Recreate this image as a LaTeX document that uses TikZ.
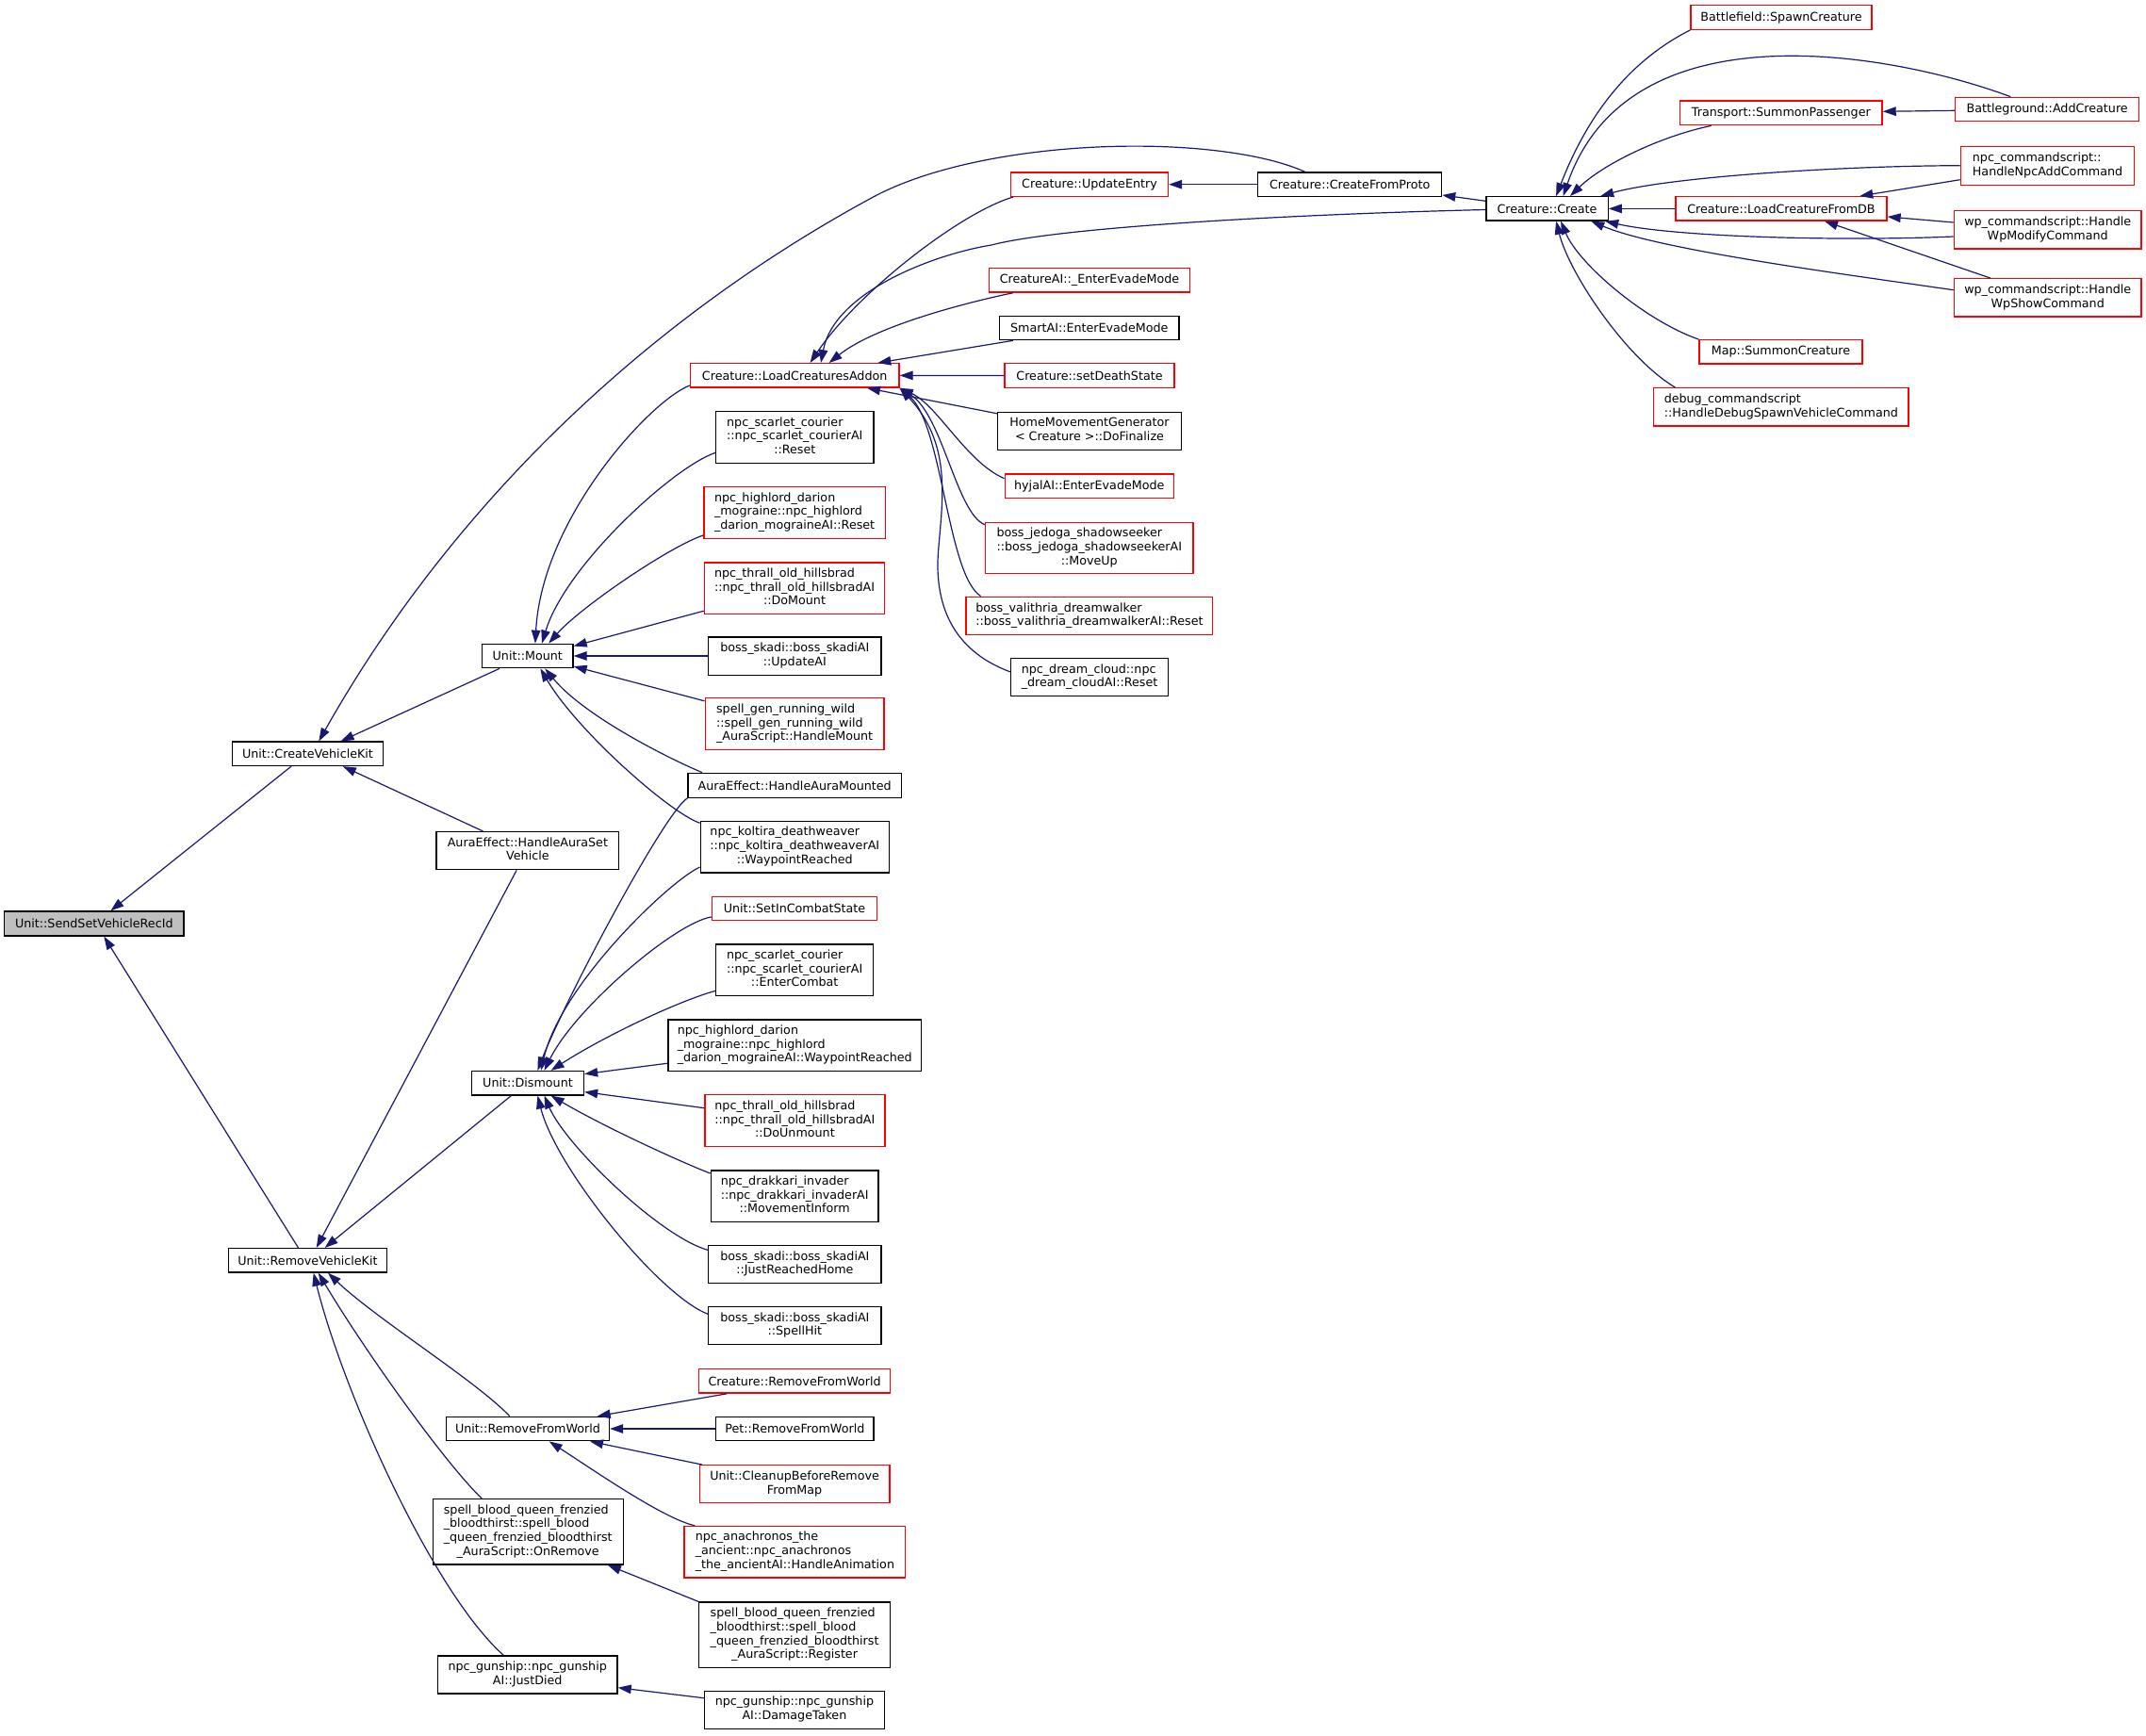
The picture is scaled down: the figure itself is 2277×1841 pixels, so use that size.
\documentclass[tikz,border=0pt]{standalone}
\usepackage{fontspec}
\setmainfont{DejaVu Sans}
\usetikzlibrary{arrows.meta}
\definecolor{edgec}{HTML}{191970}
\definecolor{redc}{HTML}{FF0000}
\definecolor{grayc}{HTML}{BFBFBF}
\newcommand\mlines[2]{\begin{tabular}{@{}l@{}}#1\\\multicolumn{1}{@{}c@{}}{#2}\end{tabular}}
\begin{document}
\begin{tikzpicture}[x=1pt,y=-1pt,
  font=\fontsize{12.7}{14.7}\selectfont,
  box/.style={draw=black,line width=1.3pt,fill=white,inner sep=0pt,align=center},
  rbox/.style={box,draw=redc},
  wh/.style 2 args={minimum width=#1pt,minimum height=#2pt},
  e/.style={draw=edgec,line width=1.2pt,-{Triangle[length=14pt,width=9.5pt]}}]
\fill[white] (0,0) rectangle (2277,1841);
\useasboundingbox (0,0) rectangle (2277,1841);
% ---------- nodes ----------
\node[box,fill=grayc,wh={190.5}{26}] (ssv) at (99.8,980) {Unit::SendSetVehicleRecId};
\node[box,wh={160.3}{25.4}] (cvk) at (326.5,799.8) {Unit::CreateVehicleKit};
\node[box,wh={168}{25.4}] (rvk) at (326.4,1337.3) {Unit::RemoveVehicleKit};
\node[box,wh={193.8}{40}] (asv) at (559.9,902.6) {\mlines{AuraEffect::HandleAuraSet}{Vehicle}};
\node[box,wh={96.4}{25.4}] (mount) at (559.8,696) {Unit::Mount};
\node[box,wh={119}{25.4}] (dism) at (560,1149.2) {Unit::Dismount};
\node[box,wh={173}{25.4}] (rfw) at (560,1516) {Unit::RemoveFromWorld};
\node[box,wh={202}{69.3}] (onrem) at (560.2,1625.3) {\mlines{spell\_blood\_queen\_frenzied\\\_bloodthirst::spell\_blood\\\_queen\_frenzied\_bloodthirst}{\_AuraScript::OnRemove}};
\node[box,wh={190.8}{40.2}] (jdied) at (559.7,1777) {\mlines{npc\_gunship::npc\_gunship}{AI::JustDied}};
\node[rbox,wh={221.5}{25.4}] (lca) at (843.2,398.4) {Creature::LoadCreaturesAddon};
\node[box,wh={167.3}{54.4}] (scR) at (843.3,464) {\mlines{npc\_scarlet\_courier\\::npc\_scarlet\_courierAI}{::Reset}};
\node[rbox,wh={192.2}{54.4}] (hlR) at (843.1,544) {\mlines{npc\_highlord\_darion\\\_mograine::npc\_highlord}{\_darion\_mograineAI::Reset}};
\node[rbox,wh={191}{54.6}] (thM) at (843,624.2) {\mlines{npc\_thrall\_old\_hillsbrad\\::npc\_thrall\_old\_hillsbradAI}{::DoMount}};
\node[box,wh={183.3}{40.2}] (skU) at (843.3,696.1) {\mlines{boss\_skadi::boss\_skadiAI}{::UpdateAI}};
\node[rbox,wh={189.8}{54.6}] (rw) at (843.1,768.1) {\mlines{spell\_gen\_running\_wild\\::spell\_gen\_running\_wild}{\_AuraScript::HandleMount}};
\node[box,wh={226.5}{26}] (ham) at (843.2,833.3) {AuraEffect::HandleAuraMounted};
\node[box,wh={200.2}{54.6}] (kol) at (843.3,898.6) {\mlines{npc\_koltira\_deathweaver\\::npc\_koltira\_deathweaverAI}{::WaypointReached}};
\node[rbox,wh={175.3}{25.4}] (sic) at (843,963.9) {Unit::SetInCombatState};
\node[box,wh={167.2}{54.4}] (scE) at (843.2,1029.2) {\mlines{npc\_scarlet\_courier\\::npc\_scarlet\_courierAI}{::EnterCombat}};
\node[box,wh={268.5}{54.4}] (hlW) at (843.2,1109.2) {\mlines{npc\_highlord\_darion\\\_mograine::npc\_highlord}{\_darion\_mograineAI::WaypointReached}};
\node[rbox,wh={191.1}{54.6}] (thU) at (843.4,1189.1) {\mlines{npc\_thrall\_old\_hillsbrad\\::npc\_thrall\_old\_hillsbradAI}{::DoUnmount}};
\node[box,wh={177.8}{54.4}] (dk) at (843.2,1269.2) {\mlines{npc\_drakkari\_invader\\::npc\_drakkari\_invaderAI}{::MovementInform}};
\node[box,wh={183.2}{40}] (skJ) at (843.4,1341.4) {\mlines{boss\_skadi::boss\_skadiAI}{::JustReachedHome}};
\node[box,wh={183.2}{40}] (skS) at (843.4,1406.4) {\mlines{boss\_skadi::boss\_skadiAI}{::SpellHit}};
\node[rbox,wh={202.6}{25.4}] (crfw) at (843.1,1465.4) {Creature::RemoveFromWorld};
\node[box,wh={167.3}{25.4}] (pet) at (843.4,1516) {Pet::RemoveFromWorld};
\node[rbox,wh={201.6}{40}] (cln) at (843.1,1574.7) {\mlines{Unit::CleanupBeforeRemove}{FromMap}};
\node[rbox,wh={234.7}{54.7}] (ana) at (843.4,1646.7) {\mlines{npc\_anachronos\_the\\\_ancient::npc\_anachronos}{\_the\_ancientAI::HandleAnimation}};
\node[box,wh={202.6}{69.3}] (reg) at (843.1,1734.7) {\mlines{spell\_blood\_queen\_frenzied\\\_bloodthirst::spell\_blood\\\_queen\_frenzied\_bloodthirst}{\_AuraScript::Register}};
\node[box,wh={190.9}{40}] (dmg) at (842.9,1814.3) {\mlines{npc\_gunship::npc\_gunship}{AI::DamageTaken}};
\node[rbox,wh={167}{25.4}] (upe) at (1156,195.7) {Creature::UpdateEntry};
\node[rbox,wh={213}{25.4}] (cai) at (1156,297.4) {CreatureAI::\_EnterEvadeMode};
\node[box,wh={190.5}{25.4}] (sai) at (1155.8,348) {SmartAI::EnterEvadeMode};
\node[rbox,wh={180}{25.4}] (sds) at (1156,398.5) {Creature::setDeathState};
\node[box,wh={194.8}{40.1}] (hmg) at (1156,457.4) {\mlines{HomeMovementGenerator}{< Creature >::DoFinalize}};
\node[rbox,wh={179.2}{25.4}] (hy) at (1155.8,515.7) {hyjalAI::EnterEvadeMode};
\node[rbox,wh={220.4}{54.4}] (jed) at (1155.8,581.6) {\mlines{boss\_jedoga\_shadowseeker\\::boss\_jedoga\_shadowseekerAI}{::MoveUp}};
\node[rbox,wh={261.7}{40.6}] (val) at (1155.9,653.5) {\mlines{boss\_valithria\_dreamwalker}{::boss\_valithria\_dreamwalkerAI::Reset}};
\node[box,wh={167.2}{40.2}] (dc) at (1156,718.7) {\mlines{npc\_dream\_cloud::npc}{\_dream\_cloudAI::Reset}};
\node[box,wh={194.8}{25.4}] (cfp) at (1432.2,195.7) {Creature::CreateFromProto};
\node[box,wh={129.3}{25.4}] (cre) at (1641.5,221.4) {Creature::Create};
\node[rbox,wh={192.2}{25.6}] (bfs) at (1890,18.5) {Battlefield::SpawnCreature};
\node[rbox,wh={214.5}{25.7}] (tsp) at (1889.8,119.9) {Transport::SummonPassenger};
\node[rbox,wh={194.8}{25.4}] (bga) at (2172.2,116) {Battleground::AddCreature};
\node[rbox,wh={184.3}{40.6}] (npca) at (2172.5,176) {\mlines{npc\_commandscript::}{HandleNpcAddCommand}};
\node[rbox,wh={224}{25.4}] (lcfdb) at (1890,221.4) {Creature::LoadCreatureFromDB};
\node[rbox,wh={198.7}{40.3}] (wpm) at (2172.7,243.9) {\mlines{wp\_commandscript::Handle}{WpModifyCommand}};
\node[rbox,wh={198.7}{40.3}] (wps) at (2172.7,315.9) {\mlines{wp\_commandscript::Handle}{WpShowCommand}};
\node[rbox,wh={173}{25.4}] (map) at (1889.5,373.4) {Map::SummonCreature};
\node[rbox,wh={270.1}{40.3}] (dbg) at (1889.8,431.9) {\mlines{debug\_commandscript}{::HandleDebugSpawnVehicleCommand}};
% ---------- edges ----------
\draw[e] (309,0 |- cvk.south) -- (117.4,0 |- ssv.north);
\draw[e] (316.5,0 |- rvk.north) -- (110.3,0 |- ssv.south);
\draw[e] (530,0 |- mount.south) -- (361.6,0 |- cvk.north);
\draw[e] (512.5,0 |- asv.north) -- (363.8,0 |- cvk.south);
\draw[e] (548.2,0 |- asv.south) -- (335.7,0 |- rvk.north);
\draw[e] (542.4,0 |- dism.south) -- (344.6,0 |- rvk.north);
\draw[e] (540.8,0 |- rfw.north) .. controls (505,1465) and (400,1400) .. (348,0 |- rvk.south);
\draw[e] (511.2,0 |- onrem.north) .. controls (470,1550) and (385,1430) .. (337.8,0 |- rvk.south);
\draw[e] (534.2,0 |- jdied.north) .. controls (460,1690) and (365,1480) .. (332.7,0 |- rvk.south);
\draw[e] (lca.west |- 0,409) .. controls (690,425) and (575,550) .. (567.9,0 |- mount.north);
\draw[e] (scR.west |- 0,480.4) .. controls (715,495) and (600,600) .. (575,0 |- mount.north);
\draw[e] (hlR.west |- 0,567.9) .. controls (710,580) and (615,645) .. (582.2,0 |- mount.north);
\draw[e] (thM.west |- 0,648.2) -- (mount.east |- 0,685.5);
\draw[e] (skU.west |- mount.east) -- (mount.east);
\draw[e] (rw.west |- 0,743.8) -- (mount.east |- 0,707);
\draw[e] (745,0 |- ham.north) .. controls (710,805) and (620,760) .. (578.3,0 |- mount.south);
\draw[e] (kol.west |- 0,873.3) .. controls (710,862) and (612,775) .. (573.3,0 |- mount.south);
\draw[e] (ham.south west) .. controls (705,862) and (600,1060) .. (570.4,0 |- dism.north);
\draw[e] (kol.west |- 0,920) .. controls (710,935) and (595,1045) .. (574,0 |- dism.north);
\draw[e] (sic.west |- 0,972.9) .. controls (715,980) and (610,1070) .. (577.5,0 |- dism.north);
\draw[e] (scE.west |- 0,1051.4) .. controls (720,1062) and (640,1100) .. (584.6,0 |- dism.north);
\draw[e] (hlW.west |- 0,1128.2) -- (dism.east |- 0,1139.6);
\draw[e] (thU.west |- 0,1175.7) -- (dism.east |- 0,1158.6);
\draw[e] (dk.west |- 0,1245) .. controls (720,1232) and (640,1195) .. (584.6,0 |- dism.south);
\draw[e] (skJ.west |- 0,1326.4) .. controls (700,1312) and (600,1215) .. (577.5,0 |- dism.south);
\draw[e] (skS.west |- 0,1394.3) .. controls (700,1375) and (590,1240) .. (570.4,0 |- dism.south);
\draw[e] (771.4,0 |- crfw.south) -- (633.7,0 |- rfw.north);
\draw[e] (pet.west) -- (rfw.east);
\draw[e] (744.9,0 |- cln.north) -- (626,0 |- rfw.south);
\draw[e] (737.2,0 |- ana.north) .. controls (705,1612) and (630,1560) .. (582.7,0 |- rfw.south);
\draw[e] (reg.north west) -- (644.9,0 |- onrem.south);
\draw[e] (dmg.west |- 0,1801.7) -- (jdied.east |- 0,1790.7);
\draw[e] (1075,0 |- upe.south) .. controls (1020,225) and (910,310) .. (859.5,0 |- lca.north);
\draw[e] (cre.west |- 0,222.5) .. controls (1350,228) and (1120,242) .. (1052,260) .. controls (990,270) and (885,310) .. (871,0 |- lca.north);
\draw[e] (1074.8,0 |- cai.south) .. controls (1030,320) and (930,345) .. (879.6,0 |- lca.north);
\draw[e] (1074.8,0 |- sai.south) -- (931.3,0 |- lca.north);
\draw[e] (sds.west) -- (lca.east);
\draw[e] (hmg.west |- 0,438.8) -- (920,0 |- lca.south);
\draw[e] (hy.west |- 0,507.7) .. controls (1025,490) and (995,430) .. (lca.south east);
\draw[e] (jed.west |- 0,556.7) .. controls (1015,545) and (1000,440) .. (lca.south east);
\draw[e] (1040.6,0 |- val.north) .. controls (1005,610) and (1000,450) .. (lca.south east);
\draw[e] (dc.west |- 0,712.8) .. controls (1010,690) and (990,640) .. (996,580) .. controls (1000,530) and (1010,470) .. (lca.south east);
\draw[e] (cfp.west) -- (upe.east);
\draw[e] (cre.west |- 0,213.3) -- (cfp.east |- 0,207);
\draw[e] (1384.8,0 |- cfp.north) .. controls (1290,140) and (1040,145) .. (921.8,211.6) .. controls (677,345) and (475,544) .. (338.3,0 |- cvk.north);
\draw[e] (bfs.south west) .. controls (1721,68.5) and (1680.5,132.5) .. (1651.1,0 |- cre.north);
\draw[e] (2133.3,0 |- bga.north) .. controls (2020,60) and (1730,0) .. (1658.6,0 |- cre.north);
\draw[e] (1815.7,0 |- tsp.south) .. controls (1760,145) and (1700,175) .. (1666,0 |- cre.north);
\draw[e] (bga.west |- 0,117.3) -- (tsp.east |- 0,118.3);
\draw[e] (npca.west |- 0,175.7) .. controls (1950,176) and (1770,188) .. (1698.2,0 |- cre.north);
\draw[e] (npca.west |- 0,190.7) -- (1973.2,0 |- lcfdb.north);
\draw[e] (lcfdb.west) -- (cre.east);
\draw[e] (wpm.west |- 0,236) -- (lcfdb.east |- 0,230);
\draw[e] (wpm.west |- 0,251) .. controls (1960,256) and (1780,252) .. (1703.2,0 |- cre.south);
\draw[e] (2112,0 |- wps.north) -- (1936,0 |- lcfdb.south);
\draw[e] (wps.west |- 0,307.7) .. controls (1950,290) and (1760,265) .. (1688.3,0 |- cre.south);
\draw[e] (1802.3,0 |- map.north) .. controls (1745,340) and (1675,280) .. (1656.1,0 |- cre.south);
\draw[e] (1777.5,0 |- dbg.north) .. controls (1725,380) and (1665,290) .. (1651.1,0 |- cre.south);
\end{tikzpicture}
\end{document}
